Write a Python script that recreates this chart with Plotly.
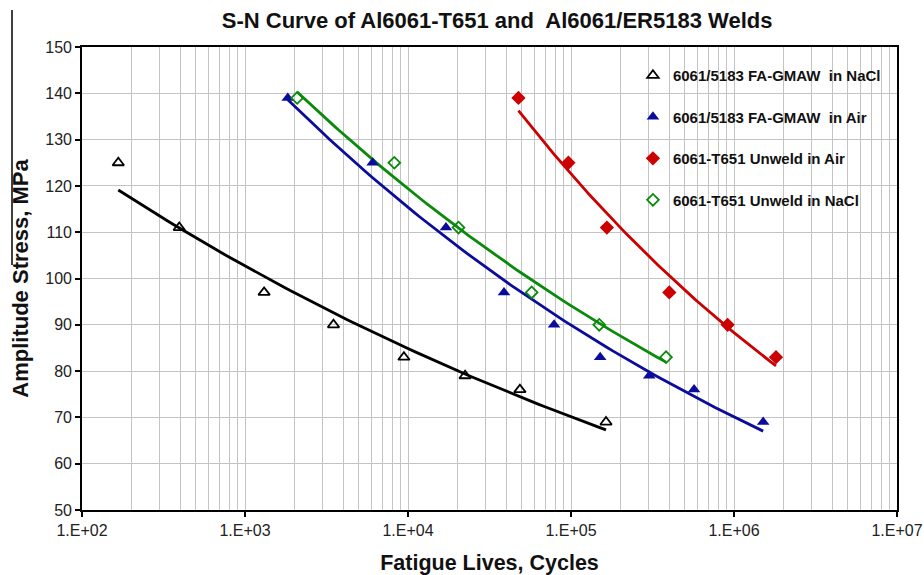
import numpy as np
import plotly.graph_objects as go

# ---- data ----
weld_nacl_N = [167, 395, 1310, 3490, 9440, 22400, 48600, 164000]
weld_nacl_S = [125, 111, 97, 90, 83, 79, 76, 69]

weld_air_N = [1830, 6070, 17100, 38800, 78700, 151000, 302000, 569000, 1510000]
weld_air_S = [139, 125, 111, 97, 90, 83, 79, 76, 69]

unweld_air_N = [47600, 96400, 166000, 401000, 914000, 1810000]
unweld_air_S = [139, 125, 111, 97, 90, 83]

unweld_nacl_N = [2090, 8240, 20400, 57400, 149000, 383000]
unweld_nacl_S = [139, 125, 111, 97, 90, 83]

series_names = ["6061/5183 FA-GMAW  in NaCl", "6061/5183 FA-GMAW  in Air",
                "6061-T651 Unweld in Air", "6061-T651 Unweld in NaCl"]

x_tick_vals = [1e2, 1e3, 1e4, 1e5, 1e6, 1e7]
x_tick_text = ["1.E+02", "1.E+03", "1.E+04", "1.E+05", "1.E+06", "1.E+07"]

FONT = "Arial, Liberation Sans, sans-serif"

series = [
    (weld_nacl_N, weld_nacl_S, series_names[0], "#000000",
     dict(symbol="triangle-up-open", size=10, color="#000000", line=dict(width=1.8, color="#000000"))),
    (weld_air_N, weld_air_S, series_names[1], "#0c0c9c",
     dict(symbol="triangle-up", size=11, color="#0c0c9c", line=dict(width=0))),
    (unweld_air_N, unweld_air_S, series_names[2], "#cc0000",
     dict(symbol="diamond", size=11, color="#cc0000", line=dict(width=0))),
    (unweld_nacl_N, unweld_nacl_S, series_names[3], "#0a8a0a",
     dict(symbol="diamond-open", size=9, color="#0a8a0a", line=dict(width=1.8, color="#0a8a0a"))),
]

fig = go.Figure()

# power-law trendlines (like Excel), fitted from the data
for N, S, name, col, mk in series:
    lx = np.log10(N)
    ly = np.log10(S)
    b, a = np.polyfit(lx, ly, 1)
    xs = np.logspace(lx.min(), lx.max(), 80)
    ys = 10 ** (a + b * np.log10(xs))
    fig.add_trace(go.Scatter(x=xs, y=ys, mode="lines", line=dict(color=col, width=2.8),
                             showlegend=False, hoverinfo="skip"))

for i, (N, S, name, col, mk) in enumerate(series):
    fig.add_trace(go.Scatter(x=N, y=S, mode="markers", marker=mk, name="<b>" + name + "</b>",
                             legendgroup=str(i)))

minor_vals = [k * 10 ** d for d in range(2, 7) for k in range(2, 10)]

GRID = "#c4c4c4"
fig.update_xaxes(
    type="log", range=[2, 7],
    tickvals=x_tick_vals, ticktext=x_tick_text,
    tickfont=dict(family=FONT, size=16, color="#222222"),
    ticks="outside", ticklen=5, tickcolor="#000000", tickwidth=1.5,
    showline=True, linecolor="#000000", linewidth=1.6, mirror=True,
    showgrid=True, gridcolor=GRID, gridwidth=1.4,
    minor=dict(tickvals=minor_vals, showgrid=True, gridcolor=GRID, gridwidth=1.4, ticks=""),
    title=dict(text="<b>Fatigue Lives, Cycles</b>", font=dict(family=FONT, size=21.5, color="#111111"),
               standoff=17),
    zeroline=False,
)
fig.update_yaxes(
    range=[50, 150], dtick=10, tick0=50,
    tickfont=dict(family=FONT, size=16, color="#222222"),
    ticks="outside", ticklen=5, tickcolor="#000000", tickwidth=1.5,
    showline=True, linecolor="#000000", linewidth=1.6, mirror=True,
    showgrid=True, gridcolor=GRID, gridwidth=1.4,
    title=dict(text="<b>Amplitude Stress, MPa</b>", font=dict(family=FONT, size=22, color="#111111"),
               standoff=11),
    zeroline=False,
)

fig.update_layout(
    width=924, height=575,
    margin=dict(l=82, r=27, t=47, b=65, autoexpand=False),
    paper_bgcolor="white", plot_bgcolor="white",
    title=dict(text="<b>S-N Curve of Al6061-T651 and  Al6061/ER5183 Welds</b>",
               font=dict(family=FONT, size=22, color="#111111"),
               x=0.538, xanchor="center", y=0.965, yanchor="middle"),
    legend=dict(x=0.676, y=0.974, xanchor="left", yanchor="top",
                bgcolor="rgba(0,0,0,0)", borderwidth=0,
                font=dict(family=FONT, size=15, color="#111111"),
                traceorder="grouped", tracegroupgap=19),
    showlegend=True,
    shapes=[dict(type="line", xref="paper", yref="paper",
                 x0=(12 - 82) / 815, x1=(12 - 82) / 815,
                 y0=(510 - 10) / 463, y1=(510 - 265) / 463,
                 line=dict(color="#000000", width=1.5))],
)

# remove the page's default body margin so the figure fills the window
fig.write_html("out.html",
               config={"displayModeBar": False},
               post_script="document.body.style.margin='0px';document.body.style.overflow='hidden';")
